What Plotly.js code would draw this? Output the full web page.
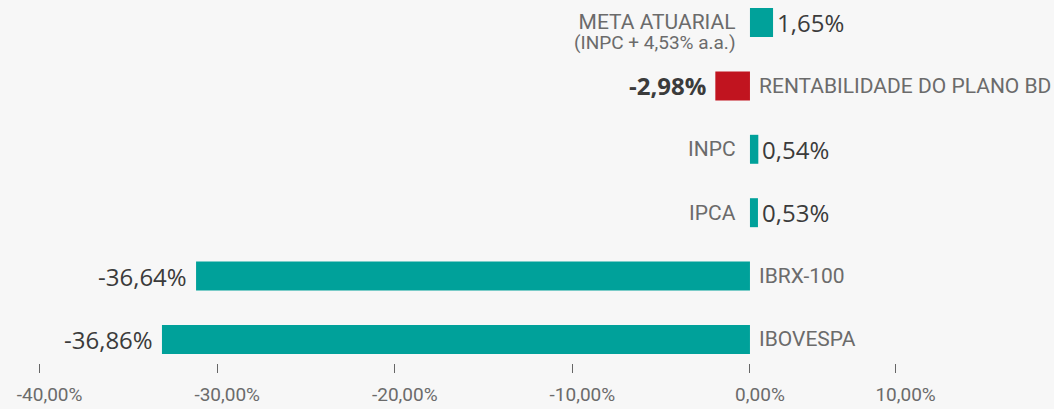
<!DOCTYPE html>
<html>
<head>
<meta charset="utf-8">
<script src="https://cdn.plot.ly/plotly-3.0.1.min.js"></script>
<style>
html,body{margin:0;padding:0;background:#f7f7f7;}
#chart{width:1054px;height:409px;}
</style>
</head>
<body>
<div id="chart"></div>
<script>
// Categories, top to bottom
const categories = ["META ATUARIAL", "RENTABILIDADE DO PLANO BD", "INPC", "IPCA", "IBRX-100", "IBOVESPA"];
const subLabels = ["(INPC + 4,53% a.a.)", "", "", "", "", ""];
// Bar lengths as drawn in the picture (axis units, %)
const barValues = [1.30, -1.95, 0.47, 0.45, -31.19, -33.11];
// Value labels as printed
const valueLabels = ["1,65%", "-2,98%", "0,54%", "0,53%", "-36,64%", "-36,86%"];
const highlight = [false, true, false, false, false, false];
// Axis ticks
const tickValues = [-40, -30, -20, -10, 0, 8.2];
const tickLabels = ["-40,00%", "-30,00%", "-20,00%", "-10,00%", "0,00%", "10,00%"];

const TEAL = "#00a19a", RED = "#c1141f";
const CAT_COLOR = "#6b6b6b", VAL_COLOR = "#3b3b3b";

const trace = {
  type: "bar",
  orientation: "h",
  x: barValues,
  y: categories,
  marker: {color: highlight.map(h => h ? RED : TEAL)},
  hoverinfo: "none"
};

const annotations = [];
categories.forEach((c, i) => {
  const v = barValues[i];
  const pos = v >= 0;
  if (subLabels[i]) {
    annotations.push({
      x: 0, y: c, xref: "x", yref: "y",
      text: "<span style='font-size:21px'>" + c + "</span><br><span style='font-size:19px'>" + subLabels[i] + "</span>",
      showarrow: false, borderpad: 0, align: "right",
      xanchor: "right", xshift: -13, yshift: -9,
      font: {family: "Roboto, sans-serif", size: 15, color: CAT_COLOR}
    });
  } else {
    annotations.push({
      x: 0, y: c, xref: "x", yref: "y",
      text: c, showarrow: false, borderpad: 0,
      xanchor: pos ? "right" : "left",
      xshift: pos ? -13 : 8,
      font: {family: "Roboto, sans-serif", size: 21, color: CAT_COLOR}
    });
  }
  annotations.push({
    x: v, y: c, xref: "x", yref: "y",
    text: highlight[i] ? "<b>" + valueLabels[i] + "</b>" : valueLabels[i],
    showarrow: false, borderpad: 0,
    xanchor: pos ? "left" : "right",
    xshift: pos ? 3 : -8,
    font: {family: "'Open Sans', sans-serif", size: 24, color: VAL_COLOR}
  });
});

const layout = {
  width: 1054, height: 409,
  paper_bgcolor: "#f7f7f7", plot_bgcolor: "#f7f7f7",
  margin: {l: 0, r: 0, t: 0, b: 46},
  showlegend: false,
  bargap: 0.543,
  xaxis: {
    range: [-42.23, 17.12],
    tickmode: "array", tickvals: tickValues, ticktext: tickLabels,
    ticks: "outside", ticklen: 9, tickwidth: 1, tickcolor: "#666",
    showgrid: false, zeroline: false, showline: false,
    ticklabelshift: 10, ticklabelstandoff: 5,
    tickfont: {family: "Roboto, sans-serif", size: 19, color: CAT_COLOR},
    fixedrange: true
  },
  yaxis: {
    type: "category", categoryorder: "array",
    categoryarray: categories.slice().reverse(),
    range: [-0.371, 5.355],
    showticklabels: false, showgrid: false, zeroline: false, showline: false, ticks: "",
    fixedrange: true
  },
  annotations: annotations
};

Plotly.newPlot("chart", [trace], layout, {displayModeBar: false, staticPlot: true});
</script>
</body>
</html>
